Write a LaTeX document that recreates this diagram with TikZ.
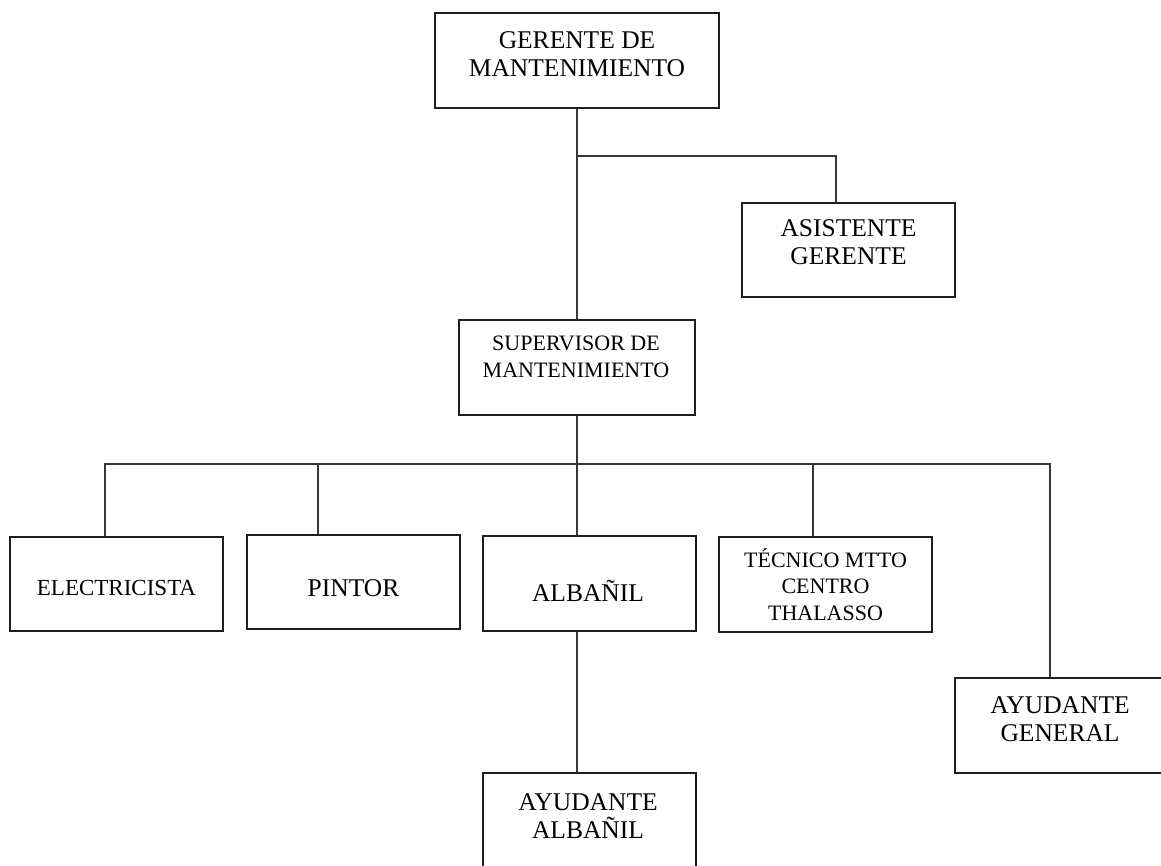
\documentclass[tikz,border=0pt]{standalone}
\usepackage{fontspec}
\setmainfont{Liberation Serif}
\begin{document}
\begin{tikzpicture}[x=1pt,y=-1pt,
  orgbox/.style={draw=black!88,line width=1.7pt,rectangle,inner sep=0pt,minimum width=213pt,minimum height=94pt},
  lbl/.style={align=center,inner sep=0pt,font=\fontsize{25.5}{28}\selectfont},
  lblsmall/.style={align=center,inner sep=0pt,font=\fontsize{22}{26.7}\selectfont},
  link/.style={draw=black!78,line width=1.5pt}]
\useasboundingbox (0,0) rectangle (1161,865);
% boxes
\node[orgbox,minimum width=284pt,minimum height=95pt] (ger) at (577,60.5) {};
\node[orgbox] (asis) at (848.5,250) {};
\node[orgbox,minimum width=236pt,minimum height=95pt] (sup) at (577,367.5) {};
\node[orgbox] (ele) at (116.5,584) {};
\node[orgbox] (pin) at (353.5,582) {};
\node[orgbox,minimum height=95pt] (alb) at (589.5,583.5) {};
\node[orgbox,minimum height=95pt] (tec) at (825.5,584.5) {};
\node[orgbox,minimum height=95pt] (ayg) at (1061.5,725.5) {};
\node[orgbox] (aya) at (589.5,820) {};
% labels
\node[lbl] (tger) at (577,54) {GERENTE DE\\MANTENIMIENTO};
\node[lbl] (tasis) at (848.5,242.5) {ASISTENTE\\GERENTE};
\node[lblsmall] (tsup) at (576,357) {SUPERVISOR DE\\MANTENIMIENTO};
\node[lbl,font=\fontsize{23}{28}\selectfont] (tele) at (116.5,588) {ELECTRICISTA};
\node[lbl] (tpin) at (353.5,588) {PINTOR};
\node[lbl] (talb) at (588,590.5) {ALBAÑIL};
\node[lblsmall,font=\fontsize{22}{26.5}\selectfont] (ttec) at (825.5,584.5) {TÉCNICO MTTO\\CENTRO\\THALASSO};
\node[lbl] (tayg) at (1060,719) {AYUDANTE\\GENERAL};
\node[lbl] (taya) at (588,816) {AYUDANTE\\ALBAÑIL};
% connectors
\coordinate (j1) at (577,156);
\coordinate (j2) at (577,464);
\path[link] (ger.south) -- (sup.north);
\path[link] (j1) -| ([xshift=-12.5pt]asis.north);
\path[link] (sup.south) -- ([xshift=-12.5pt]alb.north);
\path[link] (j2) -| ([xshift=-11.5pt]ele.north);
\path[link] (j2) -| ([xshift=-35.5pt]pin.north);
\path[link] (j2) -| ([xshift=-12.5pt]tec.north);
\path[link] (j2) -| ([xshift=-11.5pt]ayg.north);
\path[link] ([xshift=-12.5pt]alb.south) -- ([xshift=-12.5pt]aya.north);
\end{tikzpicture}
\end{document}
